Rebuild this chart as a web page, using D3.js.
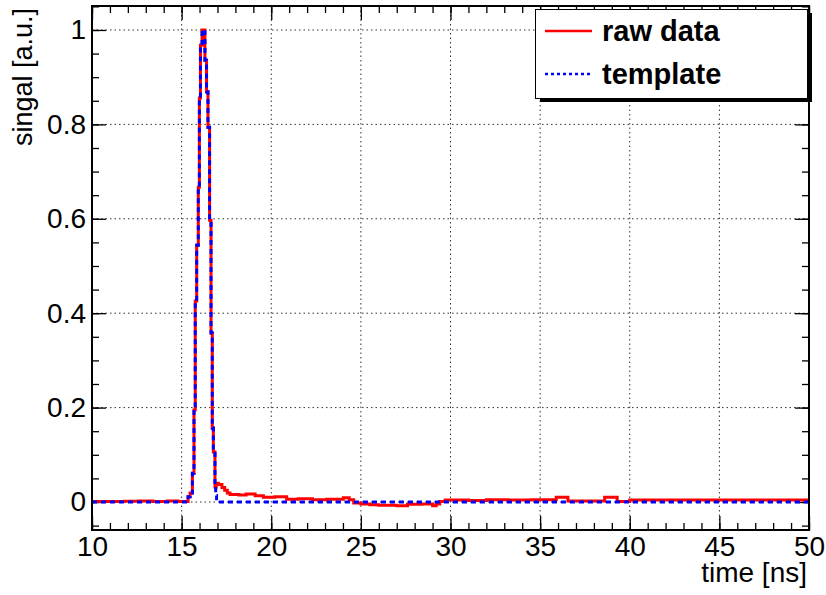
<!DOCTYPE html>
<meta charset="utf-8">
<head>
  <title>raw data vs template</title>
</head>

<style>
body { margin: 0; background: white; }
text {
  font-family: "Liberation Sans", Arial, Helvetica, sans-serif;
  fill: black;
}
.grid line {
  stroke: #333;
  stroke-width: 1;
  stroke-dasharray: 1.5,3;
}
.axis path { display: none; }
.axis line { stroke: black; stroke-width: 1.3; }
</style>

<body>
  <svg width="826" height="595"></svg>

  <script src="https://cdnjs.cloudflare.com/ajax/libs/d3/7.8.5/d3.min.js"></script>
  <script>
// step values: each value holds from its time until the next time
var baseTime   = [10, 11.8, 12.6, 13.4, 14.2, 14.8];
var baseSignal = [0.001, 0.0015, 0.002, 0.001, 0.002, 0.001];

var peakTime   = [15.36, 15.47, 15.60, 15.69, 15.76, 15.84, 15.93, 15.99, 16.05, 16.14,
                  16.30, 16.39, 16.47, 16.56, 16.64, 16.71, 16.77, 16.86];
var peakSignal = [0.011, 0.019, 0.061, 0.195, 0.426, 0.544, 0.667, 0.856, 0.968, 1.0,
                  0.936, 0.869, 0.794, 0.597, 0.358, 0.157, 0.106, 0.032];

var tailTime   = [16.93, 17.05, 17.25, 17.40, 17.55, 17.70, 18.20, 18.60, 19.10, 19.56,
                  20.20, 20.86, 21.50, 22.30, 23.10, 24.02, 24.35, 24.60, 25.00, 25.50,
                  26.00, 27.00, 27.60, 28.40, 29.00, 29.20, 29.40, 29.70, 31.00, 32.00,
                  33.20, 34.50, 35.90, 36.55, 38.60, 39.30, 40.00];
var tailSignal = [0.040, 0.037, 0.031, 0.025, 0.019, 0.016, 0.015, 0.017, 0.013, 0.010,
                  0.011, 0.006, 0.007, 0.005, 0.006, 0.009, 0.005, -0.002, -0.004, -0.006,
                  -0.007, -0.008, -0.005, -0.004, -0.008, -0.004, 0.001, 0.004, 0.003, 0.005,
                  0.004, 0.005, 0.010, 0.002, 0.010, 0.001, 0.004];

var tmplEndTime   = [16.90, 16.95];
var tmplEndSignal = [0.014, 0];

var tEnd = 50;

var rawTime = baseTime.concat(peakTime, tailTime);
var rawSignal = baseSignal.concat(peakSignal, tailSignal);
var tmplTime = [10].concat(peakTime, tmplEndTime);
var tmplSignal = [0].concat(peakSignal, tmplEndSignal);

function pts(ts, vs) {
  var p = ts.map(function(t, i) { return [t, vs[i]]; });
  p.push([tEnd, vs[vs.length - 1]]);
  return p;
}

var svg = d3.select('svg');
var padL = 92, padR = 809, padT = 6, padB = 530;

var x = d3.scaleLinear().domain([10, 50]).range([padL, padR]);
var y = d3.scaleLinear().domain([-0.0593, 1.0508]).range([padB, padT]);

// grid
var grid = svg.append('g').attr('class', 'grid');
grid.selectAll('.gx')
  .data(x.ticks(8).filter(function(d) { return d > 10 && d < 50; }))
  .enter().append('line')
  .attr('x1', function(d) { return x(d); })
  .attr('x2', function(d) { return x(d); })
  .attr('y1', padT).attr('y2', padB);
grid.selectAll('.gy')
  .data(y.ticks(5))
  .enter().append('line')
  .attr('y1', function(d) { return y(d); })
  .attr('y2', function(d) { return y(d); })
  .attr('x1', padL).attr('x2', padR);

// axes (ticks inside, on all four sides)
function noLabel() { return ''; }
svg.append('g').attr('class', 'axis')
  .attr('transform', 'translate(0,' + padB + ')')
  .call(d3.axisBottom(x).ticks(8).tickSize(-14).tickPadding(6).tickFormat(d3.format('d')))
  .selectAll('text').attr('font-size', 28);
svg.append('g').attr('class', 'axis')
  .attr('transform', 'translate(0,' + padB + ')')
  .call(d3.axisBottom(x).ticks(40).tickSize(-7).tickFormat(noLabel));
svg.append('g').attr('class', 'axis')
  .attr('transform', 'translate(0,' + padT + ')')
  .call(d3.axisTop(x).ticks(8).tickSize(-14).tickFormat(noLabel));
svg.append('g').attr('class', 'axis')
  .attr('transform', 'translate(0,' + padT + ')')
  .call(d3.axisTop(x).ticks(40).tickSize(-7).tickFormat(noLabel));

svg.append('g').attr('class', 'axis')
  .attr('transform', 'translate(' + padL + ',0)')
  .call(d3.axisLeft(y).ticks(5).tickSize(-14).tickPadding(6).tickFormat(d3.format('~g')))
  .selectAll('text').attr('font-size', 28);
svg.append('g').attr('class', 'axis')
  .attr('transform', 'translate(' + padL + ',0)')
  .call(d3.axisLeft(y).ticks(20).tickSize(-7).tickFormat(noLabel));
svg.append('g').attr('class', 'axis')
  .attr('transform', 'translate(' + padR + ',0)')
  .call(d3.axisRight(y).ticks(5).tickSize(-14).tickFormat(noLabel));
svg.append('g').attr('class', 'axis')
  .attr('transform', 'translate(' + padR + ',0)')
  .call(d3.axisRight(y).ticks(20).tickSize(-7).tickFormat(noLabel));

// curves
var line = d3.line()
  .x(function(d) { return x(d[0]); })
  .y(function(d) { return y(d[1]); })
  .curve(d3.curveStepAfter);

svg.append('path')
  .datum(pts(rawTime, rawSignal))
  .attr('d', line)
  .attr('fill', 'none')
  .attr('stroke', '#ff0000')
  .attr('stroke-width', 3);

svg.append('path')
  .datum(pts(tmplTime, tmplSignal))
  .attr('d', line)
  .attr('fill', 'none')
  .attr('stroke', '#0000ff')
  .attr('stroke-width', 3)
  .attr('stroke-dasharray', '5,4');

// frame
svg.append('rect')
  .attr('x', padL).attr('y', padT)
  .attr('width', padR - padL).attr('height', padB - padT)
  .attr('fill', 'none')
  .attr('stroke', 'black')
  .attr('stroke-width', 2);

// axis titles
svg.append('text')
  .attr('x', 807).attr('y', 582)
  .attr('text-anchor', 'end')
  .attr('font-size', 28)
  .text('time [ns]');

svg.append('text')
  .attr('transform', 'translate(32,8) rotate(-90)')
  .attr('text-anchor', 'end')
  .attr('font-size', 27)
  .text('singal [a.u.]');

// legend
var leg = svg.append('g');
leg.append('rect')
  .attr('x', 540).attr('y', 13).attr('width', 272).attr('height', 89)
  .attr('fill', 'black');
leg.append('rect')
  .attr('x', 535.5).attr('y', 9.5).attr('width', 272).attr('height', 89)
  .attr('fill', 'white').attr('stroke', 'black').attr('stroke-width', 1);

var legItems = ['raw data', 'template'];
var legColor = ['#ff0000', '#0000ff'];
var legDash = [null, '3,3'];
legItems.forEach(function(name, i) {
  var yy = 31 + i * 43;
  leg.append('line')
    .attr('x1', 545).attr('x2', 592)
    .attr('y1', yy).attr('y2', yy)
    .attr('stroke', legColor[i])
    .attr('stroke-width', 2.5)
    .attr('stroke-dasharray', legDash[i]);
  leg.append('text')
    .attr('x', 602).attr('y', yy + 10)
    .attr('font-size', 29)
    .attr('font-weight', 'bold')
    .text(name);
});
  </script>
</body>
</html>
